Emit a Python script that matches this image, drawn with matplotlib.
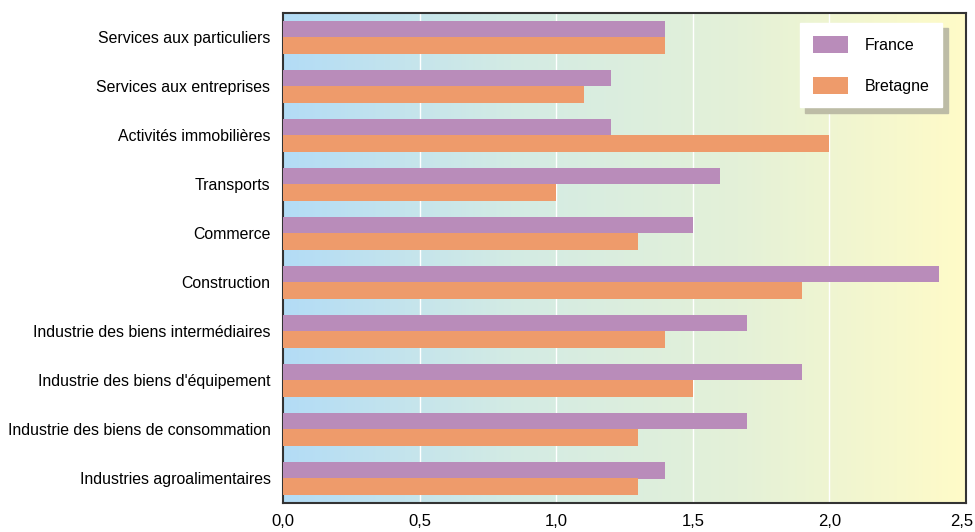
import matplotlib
matplotlib.use("Agg")
import matplotlib.pyplot as plt
import numpy as np
from matplotlib.colors import LinearSegmentedColormap
from matplotlib.transforms import ScaledTranslation

categories = [
    "Services aux particuliers",
    "Services aux entreprises",
    "Activités immobilières",
    "Transports",
    "Commerce",
    "Construction",
    "Industrie des biens intermédiaires",
    "Industrie des biens d'équipement",
    "Industrie des biens de consommation",
    "Industries agroalimentaires",
]
france = [1.4, 1.2, 1.2, 1.6, 1.5, 2.4, 1.7, 1.9, 1.7, 1.4]
bretagne = [1.4, 1.1, 2.0, 1.0, 1.3, 1.9, 1.4, 1.5, 1.3, 1.3]
xticks = [0.0, 0.5, 1.0, 1.5, 2.0, 2.5]
xticklabels = ["0,0", "0,5", "1,0", "1,5", "2,0", "2,5"]

plt.rcParams["font.family"] = ["Liberation Sans", "DejaVu Sans"]

fig = plt.figure(figsize=(9.75, 5.32), dpi=100)
ax = fig.add_axes([283 / 975, 29 / 532, 683 / 975, 490 / 532])

# gradient background
cmap = LinearSegmentedColormap.from_list("bg", ["#B3DCF6", "#D3EBE4", "#E4F1D8", "#FFFBC8"])
grad = np.linspace(0, 1, 256).reshape(1, -1)
ax.imshow(grad, cmap=cmap, aspect="auto", extent=[0, 2.5, 9.5, -0.5], zorder=0)

y = np.arange(len(categories))
h = 0.33
ax.barh(y - h / 2, france, height=h, color="#B98CBA", label="France", zorder=3)
ax.barh(y + h / 2, bretagne, height=h, color="#EE9B6B", label="Bretagne", zorder=3)

for xv in xticks[1:-1]:
    ax.axvline(xv, color="white", lw=1.0, zorder=1)

ax.set_xlim(0, 2.5)
ax.set_ylim(9.5, -0.5)
ax.set_yticks(y)
ax.set_yticklabels(categories, fontsize=11.4)
ax.set_xticks(xticks)
ax.set_xticklabels(xticklabels, fontsize=12)
ax.tick_params(axis="both", length=0)
ax.tick_params(axis="y", pad=9)
ax.tick_params(axis="x", pad=8)
last = ax.get_xticklabels()[-1]
last.set_transform(last.get_transform() + ScaledTranslation(-4 / 100, 0, fig.dpi_scale_trans))
for s in ax.spines.values():
    s.set_color("#333333")
    s.set_linewidth(1.5)

leg = ax.legend(
    loc="upper right",
    bbox_to_anchor=(0.965, 0.98),
    fontsize=11.5,
    frameon=True,
    fancybox=False,
    shadow={"color": "#BDBCA6", "alpha": 1.0, "ox": 4, "oy": -4},
    handlelength=2.25,
    handleheight=1.3,
    labelspacing=1.5,
    handletextpad=1.0,
    borderpad=0.8,
    borderaxespad=0,
)
leg.get_frame().set_edgecolor("white")
leg.get_frame().set_facecolor("white")
leg.get_frame().set_alpha(1.0)

fig.savefig("out.png", dpi=100)
